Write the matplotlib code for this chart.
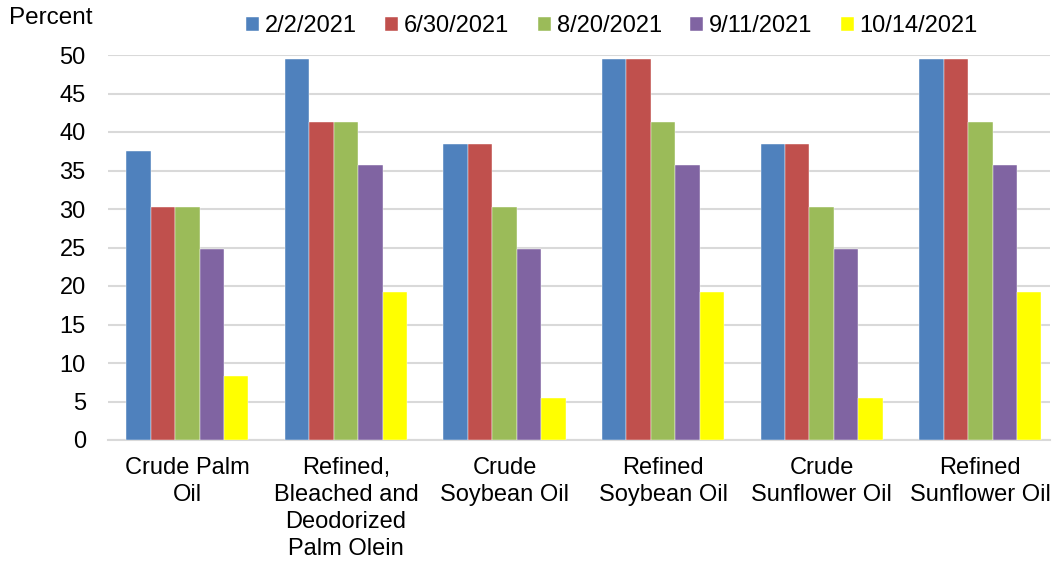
import matplotlib
matplotlib.use("Agg")
import matplotlib.pyplot as plt
import numpy as np

plt.rcParams['font.family'] = ['Liberation Sans', 'DejaVu Sans']

categories = ["Crude Palm\nOil", "Refined,\nBleached and\nDeodorized\nPalm Olein",
              "Crude\nSoybean Oil", "Refined\nSoybean Oil",
              "Crude\nSunflower Oil", "Refined\nSunflower Oil"]
series_names = ["2/2/2021", "6/30/2021", "8/20/2021", "9/11/2021", "10/14/2021"]
s_0202 = [37.5, 49.5, 38.5, 49.5, 38.5, 49.5]
s_0630 = [30.25, 41.25, 38.5, 49.5, 38.5, 49.5]
s_0820 = [30.25, 41.25, 30.25, 41.25, 30.25, 41.25]
s_0911 = [24.75, 35.75, 24.75, 35.75, 24.75, 35.75]
s_1014 = [8.25, 19.25, 5.5, 19.25, 5.5, 19.25]
yticks = [0, 5, 10, 15, 20, 25, 30, 35, 40, 45, 50]

colors = ["#4F81BD", "#C0504D", "#9BBB59", "#8064A2", "#FFFF00"]
data = [s_0202, s_0630, s_0820, s_0911, s_1014]

W, H = 1052, 563
fig = plt.figure(figsize=(W/100, H/100), dpi=100)
left, right, bottom, top = 108, 1050, 440, 55
ax = fig.add_axes([left/W, 1-bottom/H, (right-left)/W, (bottom-top)/H])

x = np.arange(len(categories))
bw = 0.154
for i, (vals, c, name) in enumerate(zip(data, colors, series_names)):
    ax.bar(x + (i-2)*bw, vals, width=bw, color=c, label=name, zorder=3,
           edgecolor='white', linewidth=0.3)

spacing = 158.6
ax.set_xlim(-0.5, -0.5 + (right-left)/spacing)
ax.set_ylim(0, 50)
ax.set_yticks(yticks)
ax.set_xticks(x)
ax.set_xticklabels(categories, fontsize=17, linespacing=1.3)
ax.tick_params(axis='y', length=0, pad=16, labelsize=17)
ax.tick_params(axis='x', length=0, pad=12)
ax.grid(axis='y', color='#D9D9D9', linewidth=1.5, zorder=0)
for s in ['top', 'right', 'left']:
    ax.spines[s].set_visible(False)
ax.spines['bottom'].set_color('#D9D9D9')
ax.spines['bottom'].set_linewidth(1.5)
ax.spines['bottom'].set_zorder(0)

fig.text(9/W, 1-18/H, "Percent", fontsize=17.5, va='center', ha='left')

fig.legend(loc='center', bbox_to_anchor=(612/W, 1-26/H), ncol=5, frameon=False,
           fontsize=17, handlelength=0.55, handleheight=0.55, handletextpad=0.25,
           columnspacing=1.2, borderpad=0)

fig.savefig("out.png", dpi=100)
